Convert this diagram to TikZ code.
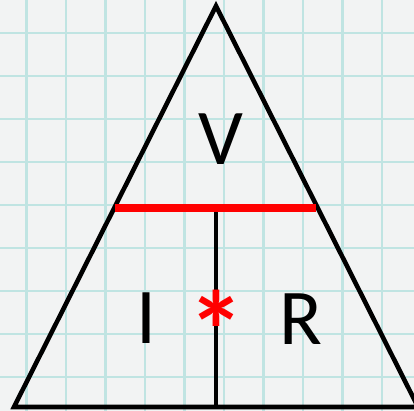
\documentclass[tikz,border=0pt]{standalone}
\usepackage{fontspec}
\setmainfont{Carlito}
\usepackage{tikz}
\usetikzlibrary{positioning,calc}
\definecolor{paper}{RGB}{242,243,243}
\definecolor{gridteal}{RGB}{192,228,226}
\definecolor{ohmred}{RGB}{255,0,0}

\begin{document}
\begin{tikzpicture}[
  x=0.02cm, y=-0.02cm,
  % ── styles ───────────────────────────────────────────────
  gridline/.style={draw=gridteal, line width=1.3pt},
  edge/.style={draw=black, line width=2.6pt, line join=miter},
  divider/.style={draw=ohmred, line width=4.5pt},
  qty/.style={font=\fontsize{45}{45}\selectfont, inner sep=0pt},
  times/.style={font=\fontsize{64}{64}\selectfont\bfseries, text=ohmred, inner sep=0pt},
]

%% ── GRAPH PAPER ──────────────────────────────────────────────
\fill[paper] (0,0) rectangle (414,411);
\useasboundingbox (0,0) rectangle (414,411);
\foreach \x in {26.5,66,105.5,145,184.5,224,263.5,303,342.5,382}{
  \draw[gridline] (\x,0) -- (\x,411);}
\foreach \y in {33,76,119,162,205,248,291,334,377}{
  \draw[gridline] (0,\y) -- (414,\y);}

%% ── TRIANGLE ─────────────────────────────────────────────────
\coordinate (top)   at (216,6);
\coordinate (left)  at (14,407);
\coordinate (right) at (418,407);
\coordinate (base)  at (216,407);
\draw[edge] (left) -- (top) -- (right) -- cycle;

%% ── DIVIDERS ─────────────────────────────────────────────────
\coordinate (barL) at (115,208);
\coordinate (barR) at (316,208);
\coordinate (barM) at (216,208);
\draw[edge, line width=1.9pt] (barM) -- (base);
\draw[divider] (barL) -- (barR);

%% ── LABELS ───────────────────────────────────────────────────
\node[qty] (V) at (221,139) {V};
\node[qty] (I) at (146,318) {I};
\node[qty] (R) at (301,319) {R};
\node[times, anchor=base] (star) at (217,371) {*};

\end{tikzpicture}
\end{document}
